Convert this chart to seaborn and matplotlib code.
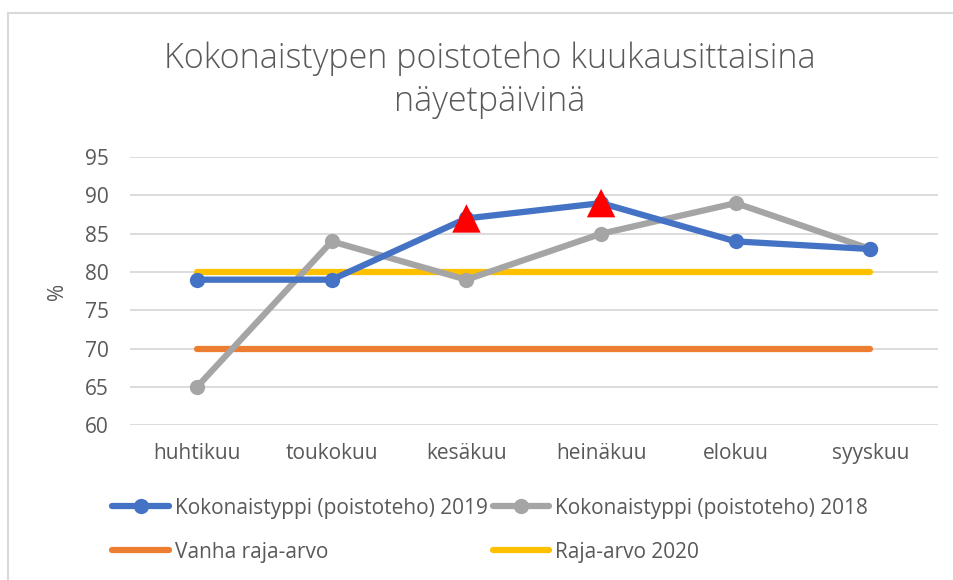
import matplotlib.pyplot as plt
import seaborn as sns
import pandas as pd
from matplotlib.lines import Line2D

months = ["huhtikuu", "toukokuu", "kesäkuu", "heinäkuu", "elokuu", "syyskuu"]
s2019 = [79, 79, 87, 89, 84, 83]
s2018 = [65, 84, 79, 85, 89, 83]
vanha = [70, 70, 70, 70, 70, 70]
raja2020 = [80, 80, 80, 80, 80, 80]
alert_months = ["kesäkuu", "heinäkuu"]
alert_values = [87, 89]

labels = ["Kokonaistyppi (poistoteho) 2019", "Kokonaistyppi (poistoteho) 2018",
          "Vanha raja-arvo", "Raja-arvo 2020"]
colors = ["#4472C4", "#A5A5A5", "#ED7D31", "#FFC000"]

df = pd.DataFrame({"kk": months, labels[0]: s2019, labels[1]: s2018,
                   labels[2]: vanha, labels[3]: raja2020})
long_df = df.melt(id_vars="kk", var_name="sarja", value_name="arvo")

sns.set_theme(style="white")
plt.rcParams['font.family'] = ['Open Sans', 'DejaVu Sans']
txt = "#595959"

fig = plt.figure(figsize=(9.54, 5.8), dpi=100)
ax = fig.add_axes([0.136, 0.267, 0.847, 0.462])

# raja-arvot ensin, mittaukset paalle
for lab, col in zip(labels[2:], colors[2:]):
    sns.lineplot(data=long_df[long_df["sarja"] == lab], x="kk", y="arvo", color=col,
                 linewidth=4.5, ax=ax, legend=False, sort=False)
sns.lineplot(data=long_df[long_df["sarja"] == labels[1]], x="kk", y="arvo", color=colors[1],
             linewidth=4.5, marker="o", markersize=11, markeredgewidth=0, ax=ax, legend=False, sort=False)
sns.lineplot(data=long_df[long_df["sarja"] == labels[0]], x="kk", y="arvo", color=colors[0],
             linewidth=4.5, marker="o", markersize=11, markeredgewidth=0, ax=ax, legend=False, sort=False)
sns.scatterplot(x=alert_months, y=alert_values, marker="^", s=420, color="#FF0000",
                edgecolor="none", ax=ax, zorder=5, legend=False)

ax.set_xlim(-0.5, len(months) - 0.5)
ax.set_ylim(60, 95)
ax.set_yticks(range(60, 96, 5))
ax.grid(axis="y", color="#D9D9D9", linewidth=1.3)
ax.set_axisbelow(True)
for sp in ax.spines.values():
    sp.set_visible(False)
ax.tick_params(axis="both", length=0, labelsize=15, labelcolor=txt)
ax.tick_params(axis="y", pad=15)
ax.tick_params(axis="x", pad=13)
ax.set_xlabel("")
ax.set_ylabel("%", fontsize=15, color=txt, labelpad=12)

fig.text(0.513, 0.862, "Kokonaistypen poistoteho kuukausittaisina\nnäyetpäivinä",
         ha="center", va="center", fontsize=24.5, color=txt, fontweight="light",
         linespacing=1.3)

# legend rivijarjestyksessa: 2019, 2018 / Vanha, Raja
h = {labels[0]: Line2D([], [], color=colors[0], lw=4.5, marker="o", markersize=11, markeredgewidth=0),
     labels[1]: Line2D([], [], color=colors[1], lw=4.5, marker="o", markersize=11, markeredgewidth=0),
     labels[2]: Line2D([], [], color=colors[2], lw=4.5),
     labels[3]: Line2D([], [], color=colors[3], lw=4.5)}
order = [labels[0], labels[2], labels[1], labels[3]]
leg = fig.legend([h[k] for k in order], order, loc="center", bbox_to_anchor=(0.514, 0.086), ncol=2,
                 frameon=False, fontsize=15, handlelength=2.7, handletextpad=0.3,
                 columnspacing=0.25, labelspacing=1.1)
for t in leg.get_texts():
    t.set_color(txt)

# kaavion reunaviiva
fig.add_artist(Line2D([8 / 954, 8 / 954], [0, 1 - 13 / 580], transform=fig.transFigure,
                      color="#D9D9D9", lw=1.5))
fig.add_artist(Line2D([8 / 954, 1], [1 - 13 / 580, 1 - 13 / 580], transform=fig.transFigure,
                      color="#D9D9D9", lw=1.5))

fig.savefig("out.png", dpi=100, facecolor="white")
